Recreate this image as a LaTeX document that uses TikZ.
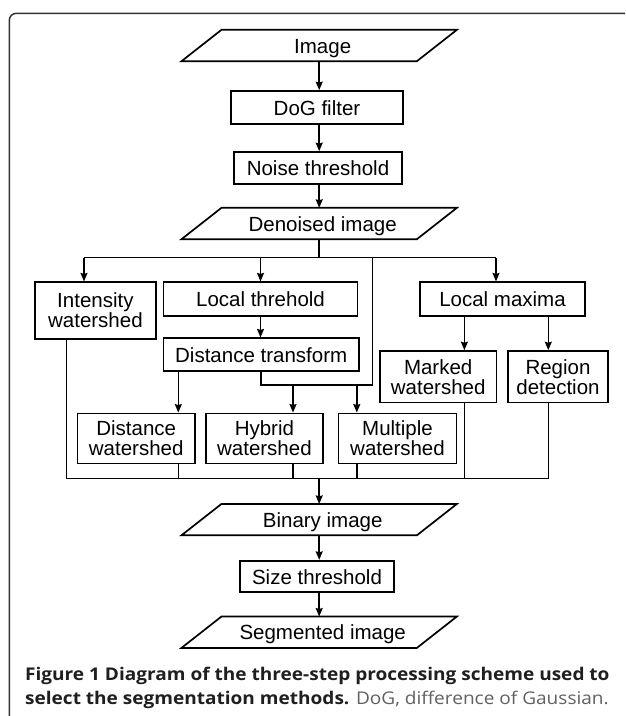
\documentclass[tikz,border=0pt]{standalone}
\usepackage{fontspec}
\setmainfont{Liberation Sans}
\newfontfamily\capfont{Open Sans}
\usetikzlibrary{arrows.meta,calc}
\begin{document}
\begin{tikzpicture}[x=1pt,y=-1pt,
  box/.style={draw, line width=1.7pt, inner sep=0pt, align=center,
              font=\fontsize{20.5}{20}\selectfont},
  onebox/.style={box, text height=15pt, text depth=0pt},
  io/.style={inner sep=0pt, minimum width=235pt, minimum height=31pt,
             text height=15pt, text depth=0pt,
             font=\fontsize{20.5}{20}\selectfont},
  conn/.style={line width=1.5pt},
  arr/.style={line width=1.5pt, -{Stealth[length=8.5pt,width=7pt,inset=1pt]}},
  iofr/.style={line width=1.7pt, line join=miter}
]
\useasboundingbox (0,0) rectangle (625,716);
\clip (0,0) rectangle (625,716);
\fill[white] (0,0) rectangle (625,716);

% outer frame
\draw[line width=1.5pt, black!80, rounded corners=7pt] (9.3,760) -- (9.3,13.3) -- (700,13.3);

% nodes
\node[io] (img) at (319.2,45.5) {\hspace*{7pt}Image};
\node[onebox, minimum width=172pt, minimum height=33pt] (dog) at (317,107.5) {DoG filter};
\node[onebox, minimum width=168pt, minimum height=32pt] (noise) at (318,168) {Noise threshold};
\node[io] (den) at (319.2,223.5) {\hspace*{7pt}Denoised image};

\node[box, minimum width=120.7pt, minimum height=56.7pt] (int) at (95.4,310.6) {Intensity\\watershed};
\node[onebox, minimum width=194pt, minimum height=33.7pt] (lt) at (260.5,299.1) {Local threhold};
\node[onebox, minimum width=195.6pt, minimum height=33pt] (dt) at (261.2,354.8) {Distance transform};
\node[onebox, minimum width=165pt, minimum height=33.7pt] (lm) at (502.5,299.1) {Local maxima};
\node[box, minimum width=116.5pt, minimum height=51.3pt] (mw) at (438.2,376.7) {Marked\\watershed};
\node[box, minimum width=100pt, minimum height=51.3pt] (rd) at (558,376.7) {Region\\detection};
\node[box, minimum width=117.5pt, minimum height=50pt] (dw) at (136.2,438.4) {Distance\\watershed};
\node[box, minimum width=117.5pt, minimum height=50pt] (hw) at (264.4,438.4) {Hybrid\\watershed};
\node[box, minimum width=118pt, minimum height=50pt] (mu) at (397.5,438.4) {Multiple\\watershed};

\node[io] (bin) at (319.2,519.6) {\hspace*{7pt}Binary image};
\node[onebox, minimum width=153.5pt, minimum height=31.6pt] (st) at (317,576.5) {Size threshold};
\node[io] (seg) at (319.2,632.2) {\hspace*{7pt}Segmented image};

% parallelograms
\foreach \n in {img,den,bin,seg}
  \draw[iofr] ([xshift=20pt]\n.north west) -- ([xshift=20pt]\n.north east)
     -- ([xshift=-20pt]\n.south east) -- ([xshift=-20pt]\n.south west) -- cycle;

% helper coordinates
\coordinate (spine) at (319.2,0);
\coordinate (bL) at (84,257.5);
\coordinate (bR) at (496,257.5);
\coordinate (bM) at (372.5,257.5);
\coordinate (jT) at (319.2,257.5);
\coordinate (hj) at (372.5,385);
\coordinate (hA) at (293,385);
\coordinate (hB) at (356.8,385);
\coordinate (xD) at (178.3,0);
\coordinate (xMk) at (464.4,0);
\coordinate (xR) at (548.3,0);
\coordinate (cL) at (66.7,478.7);
\coordinate (cR) at (548.3,478.7);
\coordinate (cM) at (319.2,478.7);

% main column
\draw[arr] (img.south) -- (dog.north -| spine);
\draw[arr] (dog.south -| spine) -- (noise.north -| spine);
\draw[arr] (noise.south -| spine) -- (den.north);

% branching
\draw[conn] (den.south) -- (jT);
\draw[conn] (bL) -- (bR);
\draw[arr] (bL) -- (bL |- int.north);
\draw[arr] (lt.north |- bL) -- (lt.north);
\draw[arr] (bR) -- (bR |- lm.north);
\draw[conn] (bM) -- (hj) -- (hj -| dt.south) -- (dt.south);
\draw[arr] (hA) -- (hA |- hw.north);
\draw[arr] (hB) -- (hB |- mu.north);
\draw[arr] (lt.south) -- (lt.south |- dt.north);
\draw[arr] (dt.south -| xD) -- (dw.north -| xD);
\draw[arr] (lm.south -| xMk) -- (mw.north -| xMk);
\draw[arr] (lm.south -| xR) -- (rd.north -| xR);

% collecting
\draw[conn] (int.south -| cL) -- (cL) -- (cR) -- (rd.south -| cR);
\draw[conn] (dw.south -| xD) -- (cL -| xD);
\draw[conn] (hw.south -| hA) -- (cL -| hA);
\draw[conn] (mu.south -| hB) -- (cL -| hB);
\draw[conn] (mw.south -| xMk) -- (cL -| xMk);
\draw[arr] (cM) -- (bin.north);
\draw[arr] (bin.south) -- (st.north -| spine);
\draw[arr] (st.south -| spine) -- (seg.north);

% caption
\node[anchor=north west, inner sep=0pt, align=left,
      font=\capfont\fontsize{17.5}{24}\selectfont, text=black!88] (cap) at (25,666.5)
  {\scalebox{1.088}[1]{\bfseries Figure 1 Diagram of the three-step processing scheme used to}\\
   \scalebox{1.088}[1]{{\bfseries select the segmentation methods.} {\color{black!62}DoG, difference of Gaussian.}}};
\end{tikzpicture}
\end{document}
